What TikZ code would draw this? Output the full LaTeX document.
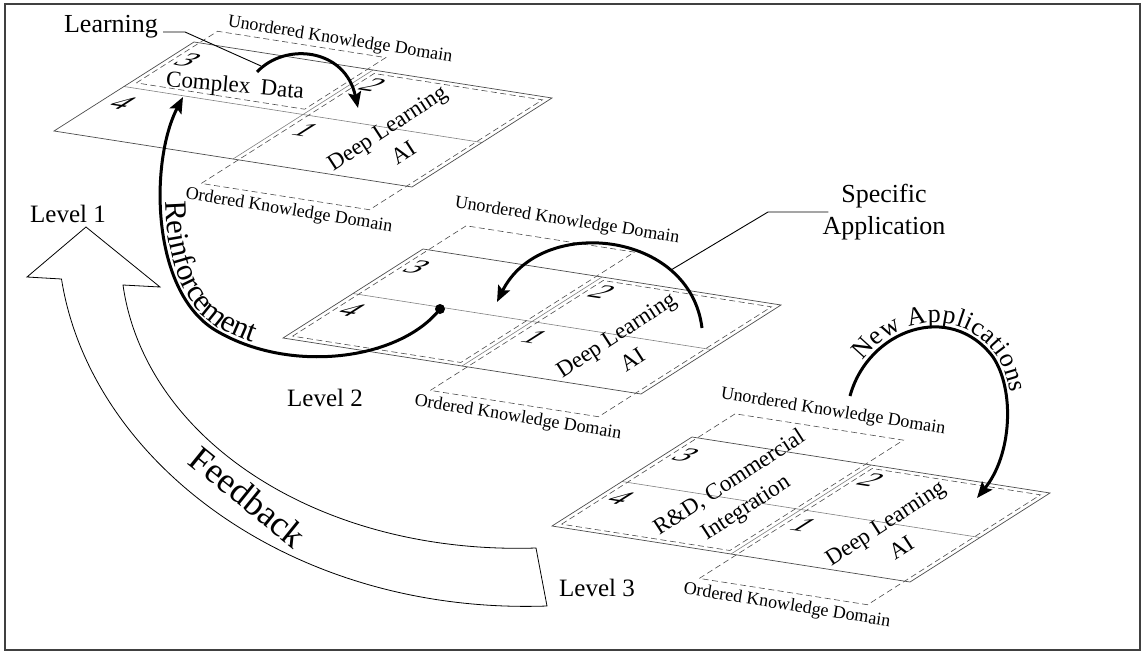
\documentclass[tikz,border=0pt]{standalone}
\usepackage{fontspec}
\setmainfont{Liberation Serif}
\usetikzlibrary{arrows.meta,decorations.text}

\tikzset{
  frameline/.style={draw=black!75, line width=1.2pt},
  planeedge/.style={draw=black!70, line width=0.7pt},
  gridline/.style={draw=black!50, line width=0.6pt},
  domainbox/.style={draw=black!70, line width=0.6pt, dash pattern=on 6pt off 3.5pt},
  digit/.style={font=\fontsize{32}{32}\selectfont, inner sep=0pt,
                cm={0.988,-0.155,0.844,0.537,(0,0)}},
  domainlabel/.style={font=\fontsize{18}{18}\selectfont, inner sep=0pt, rotate=-9},
  planetext/.style={font=\fontsize{23}{30}\selectfont, align=center, inner sep=0pt, rotate=33},
  levellabel/.style={font=\fontsize{25}{25}\selectfont, inner sep=0pt},
  biglabel/.style={font=\fontsize{26}{32}\selectfont, align=center, inner sep=0pt},
  flowarrow/.style={line width=3pt, -{Stealth[length=16pt,width=13pt,inset=3pt]}},
  leader/.style={draw=black, line width=0.9pt},
  hollowarrow/.style={draw=black, line width=0.8pt, fill=white},
  dotnode/.style={circle, fill=black, inner sep=0pt, minimum size=10pt},
}

% One knowledge plane: #1 name prefix, #2 left corner, #3/#4 extent of the
% unordered domain along the steep edge.
\newcommand{\kplane}[4]{%
  \begin{scope}[shift={#2}, x={(140pt,89pt)}, y={(358pt,-56pt)}]
    \draw[gridline] (0.5,0) -- (0.5,1);
    \draw[gridline] (0,0.5) -- (1,0.5);
    \draw[domainbox] (#3,0.015) -- (#4,0.015) -- (#4,0.485) -- (#3,0.485) -- cycle;
    \draw[domainbox] (-0.265,0.515) -- (0.97,0.515) -- (0.97,0.985) -- (-0.265,0.985) -- cycle;
    \draw[planeedge] (0,0) -- (1,0) -- (1,1) -- (0,1) -- cycle;
    \node[digit] (#1-three) at (0.83,0.05) {3};
    \node[digit] (#1-four)  at (0.35,0.055) {4};
    \node[digit] (#1-two)   at (0.86,0.555) {2};
    \node[digit] (#1-one)   at (0.365,0.56) {1};
    \node[planetext] (#1-dl) at (0.4,0.796) {Deep Learning\\AI};
  \end{scope}
}

\begin{document}
\begin{tikzpicture}[x=1pt,y=-1pt]
\useasboundingbox (0,0) rectangle (1145,653);
\draw[frameline] (5,4) rectangle (1140,650);

% the three levels
\kplane{pa}{(54,131)}{0.55}{1.13}
\kplane{pb}{(283,338)}{0.03}{1.27}
\kplane{pc}{(552,526)}{0.03}{1.27}

% domain labels
\node[domainlabel] (pa-un) at (340,40)  {Unordered Knowledge Domain};
\node[domainlabel] (pa-or) at (289,211) {Ordered Knowledge Domain};
\node[domainlabel] (pb-un) at (567,221) {Unordered Knowledge Domain};
\node[domainlabel] (pb-or) at (518,418) {Ordered Knowledge Domain};
\node[domainlabel] (pc-un) at (833,412) {Unordered Knowledge Domain};
\node[domainlabel] (pc-or) at (787,606) {Ordered Knowledge Domain};

% region texts
\node[font=\fontsize{23}{23}\selectfont, inner sep=0pt, rotate=-5] (cdata) at (235,87) {Complex\hspace{0.45em}Data};
\node[planetext] (rd) at (738,496) {R\&D, Commercial\\Integration};

% level labels
\node[levellabel] (lv1) at (68,214) {Level 1};
\node[levellabel] (lv2) at (325,398) {Level 2};
\node[levellabel] (lv3) at (597,588) {Level 3};

% Learning
\node[font=\fontsize{26}{26}\selectfont, inner sep=0pt] (learnlbl) at (111,27) {Learning};
\coordinate (learn-s) at (257,72);
\coordinate (learn-e) at (358,108);
\coordinate (learn-bend) at (185,32);
\coordinate (learn-hook) at (261,66);
\draw[flowarrow] (learn-s) .. controls (285,42) and (345,48) .. (learn-e);
\draw[leader] ([xshift=5pt,yshift=-5pt]learnlbl.east) -- (learn-bend) -- (learn-hook);

% Reinforcement
\node[dotnode] (dot) at (440,309) {};
\coordinate (reinf-e) at (183,97);
\draw[flowarrow] (dot.center) .. controls (400,360) and (290,375) .. (215,330)
  .. controls (150,290) and (150,160) .. (reinf-e);
\path[decorate, decoration={text along path, raise=4pt,
    text align={left indent=108pt},
    text={|\fontsize{31}{31}\selectfont|Reinforcement}}]
  (reinf-e) .. controls (150,160) and (150,290) .. (215,330)
  .. controls (290,375) and (400,360) .. (dot.center);

% Specific Application
\node[biglabel] (spec) at (884,212) {Specific\\Application};
\coordinate (spec-s) at (702,328);
\coordinate (spec-e) at (497,302);
\coordinate (spec-hook) at (671,270);
\coordinate (spec-bend) at (768,212);
\draw[flowarrow] (spec-s) .. controls (690,230) and (540,215) .. (spec-e);
\draw[leader] (spec-hook) -- (spec-bend) -- ([xshift=6pt]spec.west);

% New Applications
\coordinate (new-s) at (850,396);
\coordinate (new-m) at (993,357);
\coordinate (new-e) at (977,498);
\draw[flowarrow] (new-s) .. controls (868,330) and (950,300) .. (new-m)
  .. controls (1015,390) and (1012,455) .. (new-e);
\path[decorate, decoration={text along path, raise=4pt,
    text align={left indent=36pt},
    text={|\fontsize{26}{26}\selectfont|New Applications}}]
  (new-s) .. controls (868,330) and (950,300) .. (new-m)
  .. controls (1015,390) and (1012,455) .. (new-e);

% Feedback arrow from level 3 back to level 1
\draw[hollowarrow] (86,227) -- (160,287) -- (123,285)
  .. controls (145,440) and (320,555) .. (536,548) -- (547,606)
  .. controls (290,615) and (90,460) .. (61.5,279) -- (27,277) -- cycle;
\node[font=\fontsize{36}{36}\selectfont, inner sep=0pt, rotate=-39] (fb) at (248,497) {Feedback};

\end{tikzpicture}
\end{document}
